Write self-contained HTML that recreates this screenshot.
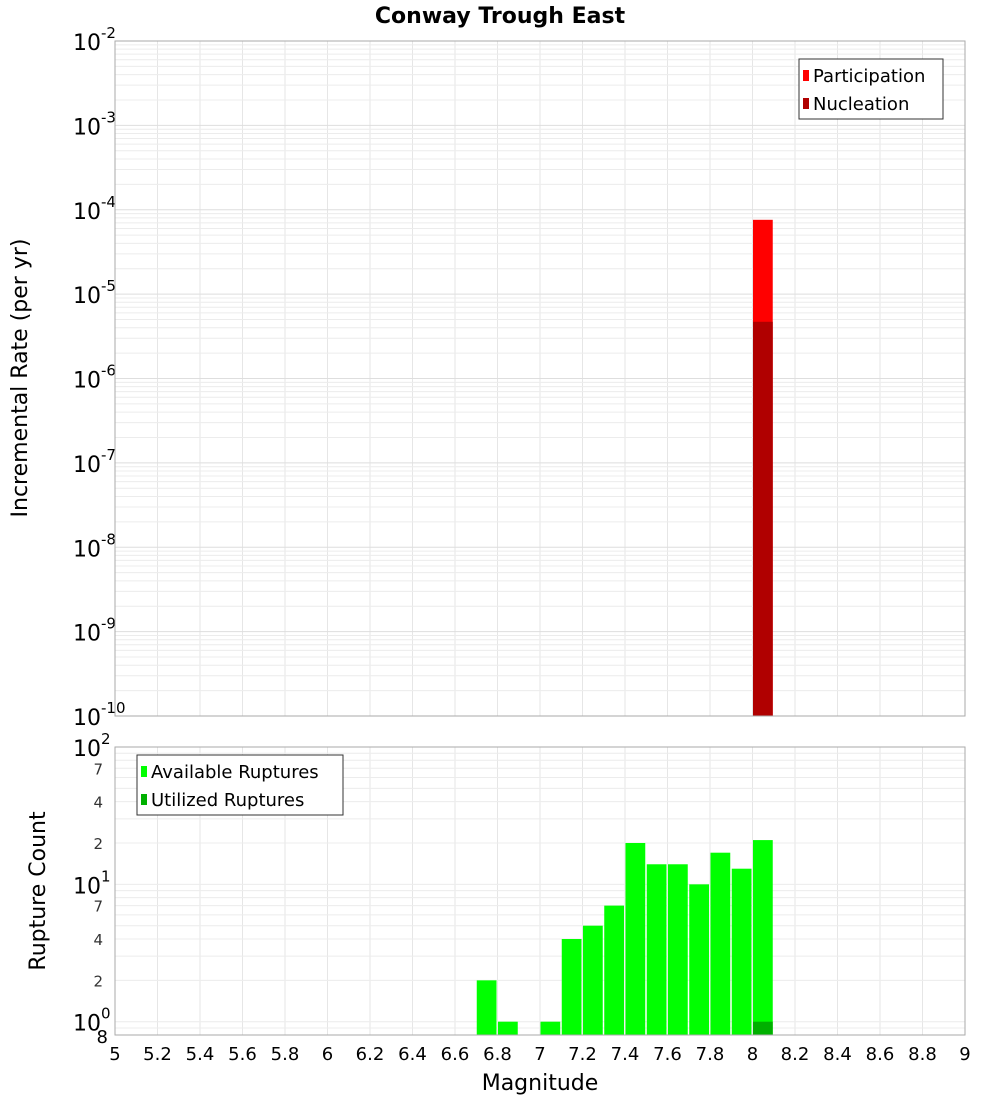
<!DOCTYPE html>
<html><head><meta charset="utf-8"><style>
body{margin:0;background:#fff;}
svg{display:block;font-family:"DejaVu Sans","Liberation Sans",sans-serif;}
</style></head><body>
<svg id="c" width="1000" height="1100">
<text x="500" y="23" text-anchor="middle" font-size="22" font-weight="bold">Conway Trough East</text>
<g id="top"></g>
<g id="bot"></g>
<text transform="translate(27,378) rotate(-90)" text-anchor="middle" font-size="22">Incremental Rate (per yr)</text>
<text transform="translate(45,891) rotate(-90)" text-anchor="middle" font-size="22">Rupture Count</text>
<text x="540" y="1090" text-anchor="middle" font-size="22">Magnitude</text>
</svg>
<script>
const rateMags=[8.05];
const participation=[7.6e-5];
const nucleation=[4.7e-6];
const countMags=[6.75,6.85,7.05,7.15,7.25,7.35,7.45,7.55,7.65,7.75,7.85,7.95,8.05];
const available=[2,1,1,4,5,7,20,14,14,10,17,13,21];
const utilizedMags=[8.05];
const utilized=[1];
const xTicks=[5,5.2,5.4,5.6,5.8,6,6.2,6.4,6.6,6.8,7,7.2,7.4,7.6,7.8,8,8.2,8.4,8.6,8.8,9];
const rateExps=[-10,-9,-8,-7,-6,-5,-4,-3,-2];
const countExps=[0,1,2];

const NS="http://www.w3.org/2000/svg";
const L=115,R=965;
const xs=m=>L+(m-5)/4*(R-L);
const T1=41,B1=716,y1=v=>B1-(Math.log10(v)+10)/8*(B1-T1);
const T2=747,B2=1035,lmin=Math.log10(0.8),y2=v=>B2-(Math.log10(v)-lmin)/(2-lmin)*(B2-T2);
function mk(p,tag,at,txt){const e=document.createElementNS(NS,tag);for(const k in at)e.setAttribute(k,at[k]);if(txt!=null)e.textContent=txt;p.appendChild(e);return e;}
const topG=document.getElementById('top'),botG=document.getElementById('bot');
const svgRoot=document.getElementById('c');
mk(topG,'rect',{x:L,y:T1,width:R-L,height:B1-T1,fill:'#fff'});
mk(botG,'rect',{x:L,y:T2,width:R-L,height:B2-T2,fill:'#fff'});
xTicks.forEach(t=>{const x=xs(t);
 let g=mk(topG,'line',{x1:x,x2:x,y1:T1,y2:B1,stroke:'#e6e6e6'});
 
 
 g=mk(botG,'line',{x1:x,x2:x,y1:T2,y2:B2,stroke:'#e6e6e6'});
 
 
 const lb=mk(svgRoot,'text',{x:x,y:1060,'text-anchor':'middle','font-size':18},String(t));
 
 
});
rateExps.forEach(e=>{for(let k=1;k<=9;k++){const v=k*Math.pow(10,e);if(v>1e-2+1e-12)break;const y=y1(v);
 const g=mk(topG,'line',{x1:L,x2:R,y1:y,y2:y,stroke:k==1?'#dedede':'#ececec'});
 
 }
 const y=y1(Math.pow(10,e));
 const t=mk(topG,'text',{x:73,y:y+9,'font-size':22});
 
 
 mk(t,'tspan',{},'10');mk(t,'tspan',{dy:-12,'font-size':15},String(e));
});
[0.8,0.9,1,2,3,4,5,6,7,8,9,10,20,30,40,50,60,70,80,90,100].forEach(v=>{const y=y2(v);
 const g=mk(botG,'line',{x1:L,x2:R,y1:y,y2:y,stroke:'#ececec'});
 
 });
countExps.forEach(e=>{const y=y2(Math.pow(10,e));
 const t=mk(botG,'text',{x:73,y:y+9,'font-size':22});
 
 
 mk(t,'tspan',{},'10');mk(t,'tspan',{dy:-12,'font-size':15},String(e));
 if(e<2)[2,4,7].forEach(k=>{const yy=y2(k*Math.pow(10,e));
  const m=mk(botG,'text',{x:103,y:yy+6,'text-anchor':'end','font-size':15,fill:'#333'},String(k));
  
  });
});
{const m=mk(botG,'text',{x:108,y:B2+8,'text-anchor':'end','font-size':18},'8');
 
 }
const bw=(xs(5.1)-xs(5))-1.5;
participation.forEach((v,i)=>{const x=xs(rateMags[i]-0.05)+0.5;
 const b=mk(topG,'rect',{x:x,y:y1(v),width:bw,height:B1-y1(v),fill:'#ff0000'});
 
 });
nucleation.forEach((v,i)=>{const x=xs(rateMags[i]-0.05)+0.5;
 const b=mk(topG,'rect',{x:x,y:y1(v),width:bw,height:B1-y1(v),fill:'#b00000'});
 
 });
available.forEach((v,i)=>{const x=xs(countMags[i]-0.05)+0.5;
 const b=mk(botG,'rect',{x:x,y:y2(v),width:bw,height:B2-y2(v),fill:'#00ff00'});
 
 });
utilized.forEach((v,i)=>{const x=xs(utilizedMags[i]-0.05)+0.5;
 const b=mk(botG,'rect',{x:x,y:y2(v),width:bw,height:B2-y2(v),fill:'#00b000'});
 
 });
mk(topG,'rect',{x:L,y:T1,width:R-L,height:B1-T1,fill:'none',stroke:'#aaa'});
mk(botG,'rect',{x:L,y:T2,width:R-L,height:B2-T2,fill:'none',stroke:'#aaa'});
function legend(p,x,y,w,items,name){const g=mk(p,'g',{});
 
 
 mk(g,'rect',{x:x,y:y,width:w,height:items.length*28+4,fill:'#fff',stroke:'#333'});
 items.forEach((it,i)=>{mk(g,'rect',{x:x+4,y:y+11+i*28,width:6,height:11,fill:it[1]});
  const t=mk(g,'text',{x:x+14,y:y+23+i*28,'font-size':18},it[0]);
  
  });}
legend(topG,799,59,144,[['Participation','#ff0000'],['Nucleation','#b00000']],'rate-legend');
legend(botG,137,755,206,[['Available Ruptures','#00ff00'],['Utilized Ruptures','#00b000']],'count-legend');
</script>
</body></html>
